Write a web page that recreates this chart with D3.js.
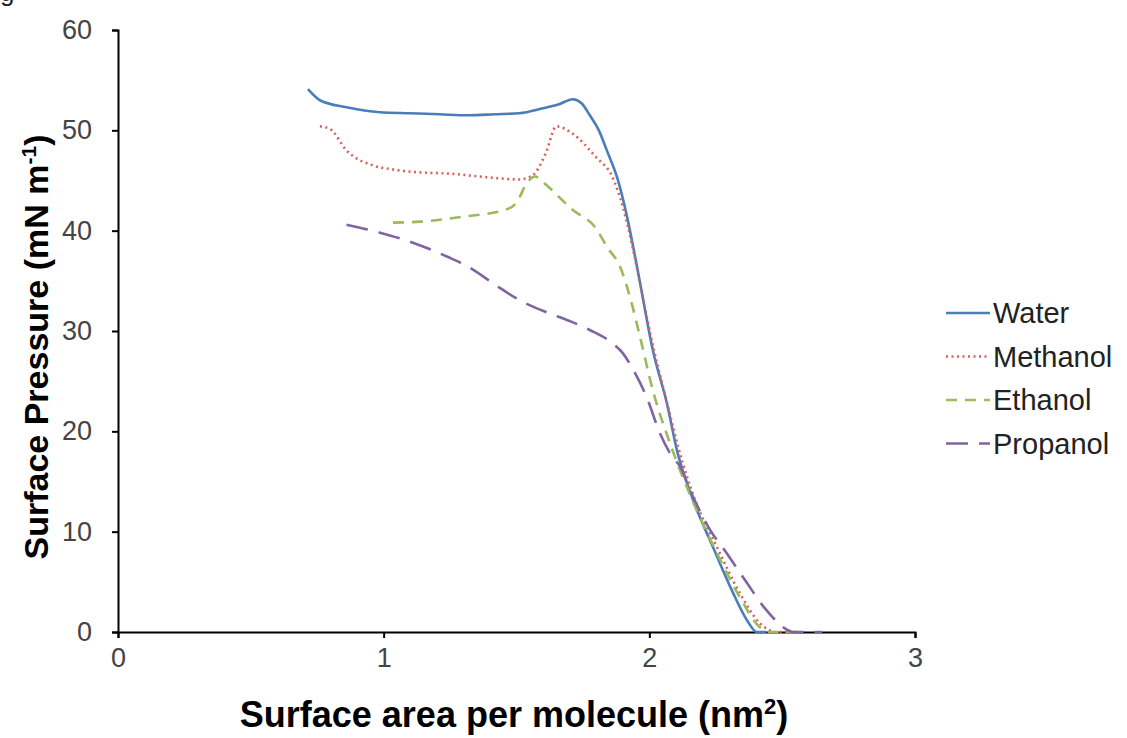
<!DOCTYPE html>
<html>
<head>
<meta charset="utf-8">
<script src="https://cdn.jsdelivr.net/npm/d3@7"></script>
<style>
  body { margin: 0; background: #fff; }
  text { font-family: "Liberation Sans", Arial, sans-serif; }
</style>
</head>
<body>
<svg id="chart" width="1127" height="738"></svg>
<script>
// series data - area (nm2) vs surface pressure (mN/m)
const waterX = [0.715, 0.76, 0.86, 0.986, 1.10, 1.21, 1.32, 1.42, 1.51, 1.60, 1.66, 1.712, 1.745, 1.776, 1.81, 1.84, 1.88, 1.916, 1.94, 1.965, 2.013, 2.066, 2.104, 2.164, 2.239, 2.315, 2.367, 2.405, 2.44];
const waterY = [54.1, 53.0, 52.3, 51.8, 51.7, 51.6, 51.5, 51.6, 51.7, 52.2, 52.6, 53.1, 52.7, 51.5, 50.0, 48.0, 45.2, 41.4, 38.3, 34.8, 28.1, 22.8, 18.1, 13.2, 8.5, 3.9, 1.2, 0, 0];

const methX = [0.76, 0.80, 0.86, 0.96, 1.035, 1.14, 1.24, 1.36, 1.44, 1.51, 1.56, 1.61, 1.65, 1.71, 1.80, 1.86, 1.90, 1.94, 1.97, 2.02, 2.07, 2.11, 2.17, 2.254, 2.34, 2.415, 2.48, 2.52];
const methY = [50.4, 50.1, 48.0, 46.5, 46.1, 45.8, 45.7, 45.4, 45.2, 45.1, 45.5, 47.7, 50.4, 49.7, 47.3, 45.4, 42.4, 38.0, 34.0, 27.8, 22.5, 18.3, 13.3, 8.5, 3.9, 0.9, 0, 0];

const ethX = [1.035, 1.14, 1.30, 1.46, 1.50, 1.54, 1.57, 1.61, 1.71, 1.80, 1.84, 1.89, 1.93, 1.965, 2.013, 2.078, 2.164, 2.254, 2.34, 2.415, 2.45, 2.58];
const ethY = [40.8, 40.9, 41.4, 42.1, 42.8, 44.8, 45.4, 44.6, 42.1, 40.2, 38.4, 36.4, 33.1, 29.4, 24.1, 18.8, 13.0, 7.9, 3.5, 0.5, 0, 0];

const propX = [0.86, 0.986, 1.11, 1.24, 1.325, 1.42, 1.51, 1.61, 1.70, 1.776, 1.86, 1.90, 1.94, 1.99, 2.04, 2.078, 2.115, 2.164, 2.228, 2.29, 2.367, 2.44, 2.52, 2.54, 2.65];
const propY = [40.6, 39.8, 38.8, 37.4, 36.3, 34.6, 33.1, 31.9, 31.0, 30.1, 28.8, 27.8, 26.1, 23.4, 19.8, 17.8, 16.5, 13.5, 10.2, 7.9, 4.9, 2.2, 0.2, 0, 0];

const seriesNames = ['Water', 'Methanol', 'Ethanol', 'Propanol'];
const xTicks = [0, 1, 2, 3];
const yTicks = [0, 10, 20, 30, 40, 50, 60];

// build a table from the arrays
const series = [
    {name: seriesNames[0], xs: waterX, ys: waterY, color: '#4a7ebb', dash: null},
    {name: seriesNames[1], xs: methX, ys: methY, color: '#d9605c', dash: '2,3.5'},
    {name: seriesNames[2], xs: ethX, ys: ethY, color: '#9bbb59', dash: '11,8'},
    {name: seriesNames[3], xs: propX, ys: propY, color: '#8064a2', dash: '22,11'}
];

let svg = d3.select('#chart');
let plot = {left: 118, right: 915, top: 30, bottom: 632};

let xScale = d3.scaleLinear().domain([0, 3]).range([plot.left, plot.right]);
let yScale = d3.scaleLinear().domain([0, 60]).range([plot.bottom, plot.top]);

// stray glyph from the figure caption cut at the top
svg.append('text')
    .attr('x', 0).attr('y', 1)
    .style('font-size', '26px')
    .attr('fill', '#222')
    .text('g');

// axes
let xAxis = svg.append('g')
    .attr('transform', 'translate(0,' + plot.bottom + ')')
    .call(d3.axisBottom(xScale).tickValues(xTicks).tickSize(6).tickPadding(6).tickFormat(d3.format('d')));
let yAxis = svg.append('g')
    .attr('transform', 'translate(' + plot.left + ',0)')
    .call(d3.axisLeft(yScale).tickValues(yTicks).tickSize(6).tickPadding(20).tickFormat(d3.format('d')));

[xAxis, yAxis].forEach(function(ax){
    ax.select('.domain').attr('stroke', '#000').attr('stroke-width', 2);
    ax.selectAll('.tick line').attr('stroke', '#000').attr('stroke-width', 2);
    ax.selectAll('.tick text')
        .attr('fill', '#444')
        .style('font-size', '27px')
        .style('font-family', '"Liberation Sans", Arial, sans-serif');
});
xAxis.selectAll('.tick text').attr('dy', '0.85em');

// the curves
let line = d3.line()
    .x(function(d){ return xScale(d[0]); })
    .y(function(d){ return yScale(d[1]); })
    .curve(d3.curveMonotoneX);

let curves = svg.append('g');
series.forEach(function(s){
    let pts = s.xs.map(function(x, i){ return [x, s.ys[i]]; });
    curves.append('path')
        .datum(pts)
        .attr('d', line)
        .attr('fill', 'none')
        .attr('stroke', s.color)
        .attr('stroke-width', 2.6)
        .attr('stroke-dasharray', s.dash);
});

// legend
let legend = svg.append('g').attr('transform', 'translate(946,313)');
series.forEach(function(s, i){
    let row = legend.append('g').attr('transform', 'translate(0,' + (i * 43.5) + ')');
    row.append('line')
        .attr('x1', 0).attr('x2', 44).attr('y1', 0).attr('y2', 0)
        .attr('stroke', s.color)
        .attr('stroke-width', 2.6)
        .attr('stroke-dasharray', s.dash);
    row.append('text')
        .attr('x', 47).attr('y', 10)
        .style('font-size', '29px')
        .attr('fill', '#222')
        .text(s.name);
});

// axis titles
let xTitle = svg.append('text')
    .attr('x', 514).attr('y', 727)
    .attr('text-anchor', 'middle')
    .style('font-size', '36px')
    .style('font-weight', 'bold')
    .attr('fill', '#000');
xTitle.append('tspan').text('Surface area per molecule (nm');
xTitle.append('tspan').attr('dy', -13).style('font-size', '22px').text('2');
xTitle.append('tspan').attr('dy', 13).text(')');

let yTitle = svg.append('text')
    .attr('transform', 'translate(48,' + 347 + ') rotate(-90)')
    .attr('text-anchor', 'middle')
    .style('font-size', '34px')
    .style('font-weight', 'bold')
    .attr('fill', '#000');
yTitle.append('tspan').text('Surface Pressure (mN m');
yTitle.append('tspan').attr('dy', -12).style('font-size', '21px').text('-1');
yTitle.append('tspan').attr('dy', 12).text(')');
</script>
</body>
</html>
